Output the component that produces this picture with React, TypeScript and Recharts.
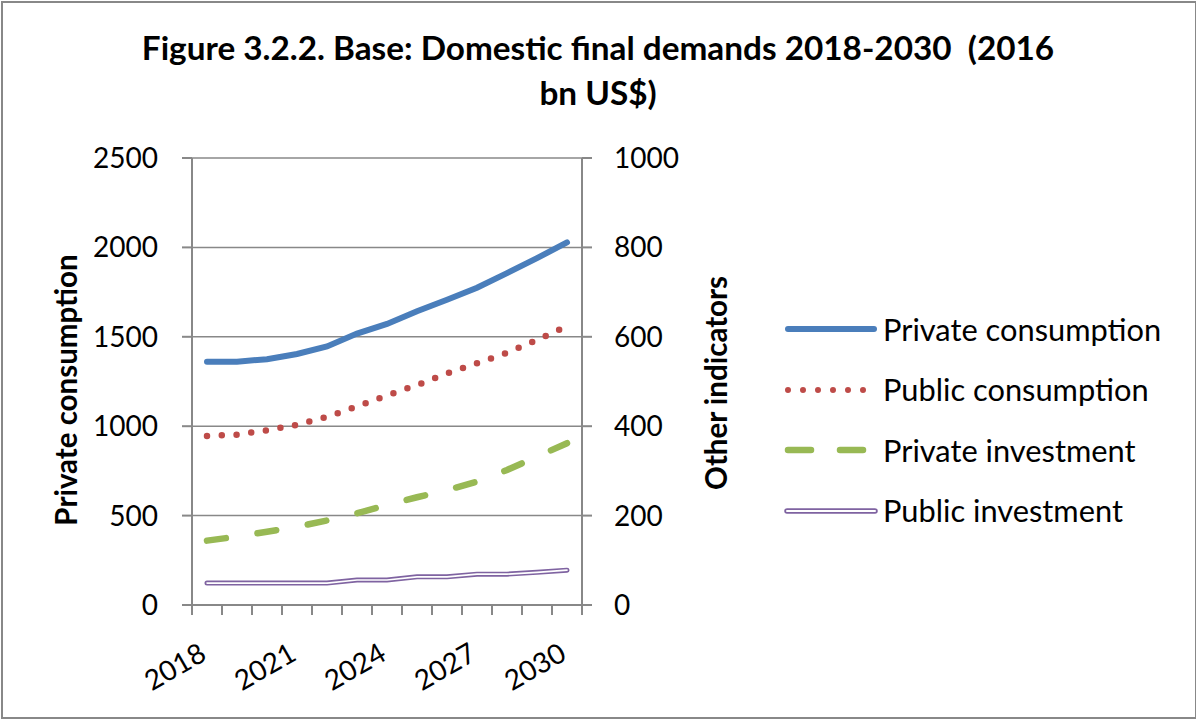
import React from "react";
import { LineChart, Line, XAxis, YAxis, CartesianGrid } from "recharts";

const years = ["2018", "2019", "2020", "2021", "2022", "2023", "2024", "2025", "2026", "2027", "2028", "2029", "2030"];
const privateConsumption = [1361, 1361, 1375, 1404, 1446, 1518, 1572, 1643, 1707, 1774, 1856, 1940, 2028];
const publicConsumption = [378, 381, 391, 403, 421, 444, 469, 492, 518, 541, 564, 593, 624];
const privateInvestment = [144, 153, 164, 175, 189, 205, 224, 241, 257, 276, 302, 332, 362];
const publicInvestment = [49, 49, 49, 49, 49, 56, 56, 63, 63, 69, 69, 73, 78];

const leftTicks = [0, 500, 1000, 1500, 2000, 2500];
const rightTicks = [0, 200, 400, 600, 800, 1000];
const labelYears = ["2018", "2021", "2024", "2027", "2030"];

const data = years.map((year, i) => ({
  year,
  privC: privateConsumption[i],
  pubC: publicConsumption[i],
  privI: privateInvestment[i],
  pubI: publicInvestment[i],
}));

const FONT = "Lato, 'Open Sans', sans-serif";
const GRAY = "#888888";
const BLUE = "#4A7EBB";
const RED = "#BE4B48";
const GREEN = "#98B954";
const PURPLE = "#7F63A1";

const PLOT_LEFT = 192;
const PLOT_RIGHT = 582;
const RIGHT_AXIS_W = 110;
const BAND = (PLOT_RIGHT - PLOT_LEFT) / years.length;

function YearTick(props: any) {
  const { x, y, payload, index } = props;
  const show = labelYears.includes(payload.value);
  return (
    <g>
      <line x1={x - BAND / 2} y1={y} x2={x - BAND / 2} y2={y + 10} stroke={GRAY} strokeWidth={2} />
      {index === years.length - 1 && (
        <line x1={x + BAND / 2} y1={y} x2={x + BAND / 2} y2={y + 10} stroke={GRAY} strokeWidth={2} />
      )}
      {show && (
        <text
          x={x + 1}
          y={y + 54}
          textAnchor="end"
          transform={`rotate(-30 ${x + 1} ${y + 54})`}
          fontFamily={FONT}
          fontSize={28}
          fill="#000"
        >
          {payload.value}
        </text>
      )}
    </g>
  );
}

const legendItems = [
  { label: "Private consumption", kind: "solid", color: BLUE },
  { label: "Public consumption", kind: "dot", color: RED },
  { label: "Private investment", kind: "dash", color: GREEN },
  { label: "Public investment", kind: "double", color: PURPLE },
];

function LegendBox() {
  return (
    <div style={{ fontFamily: FONT }}>
      {legendItems.map((it) => (
        <div key={it.label} style={{ display: "flex", alignItems: "center", height: 60.5 }}>
          <svg width={100} height={20} style={{ display: "block" }}>
            {it.kind === "solid" && (
              <line x1={4} y1={10} x2={90} y2={10} stroke={it.color} strokeWidth={6} strokeLinecap="round" />
            )}
            {it.kind === "dot" && (
              <line x1={4} y1={10} x2={90} y2={10} stroke={it.color} strokeWidth={6} strokeLinecap="round" strokeDasharray="0 15" />
            )}
            {it.kind === "dash" && (
              <line x1={4} y1={10} x2={90} y2={10} stroke={it.color} strokeWidth={6.5} strokeLinecap="round" strokeDasharray="23 29" />
            )}
            {it.kind === "double" && (
              <>
                <line x1={3} y1={10} x2={91} y2={10} stroke={it.color} strokeWidth={5.5} strokeLinecap="round" />
                <line x1={3} y1={10} x2={91} y2={10} stroke="#fff" strokeWidth={2} strokeLinecap="round" />
              </>
            )}
          </svg>
          <span style={{ fontSize: 30.8, color: "#000", whiteSpace: "nowrap", marginLeft: -1 }}>{it.label}</span>
        </div>
      ))}
    </div>
  );
}

export default function App() {
  return (
    <div
      style={{
        position: "absolute",
        left: 0,
        top: 0,
        width: 1196,
        height: 719,
        background: "#fff",
        fontFamily: FONT,
      }}
    >
      <div
        style={{
          position: "absolute",
          left: 1,
          top: 1,
          width: 1192,
          height: 714,
          border: `2px solid ${GRAY}`,
        }}
      />
      <div
        style={{
          position: "absolute",
          left: 0,
          top: 25,
          width: 1196,
          textAlign: "center",
          fontWeight: 700,
          fontSize: 33.3,
          lineHeight: "45px",
          color: "#000",
        }}
      >
        Figure 3.2.2. Base: Domestic final demands 2018-2030&nbsp; (2016
        <br />
        bn US$)
      </div>
      <div
        style={{
          position: "absolute",
          left: 65,
          top: 390,
          transform: "translate(-50%, -50%) rotate(-90deg)",
          fontWeight: 700,
          fontSize: 29.5,
          whiteSpace: "nowrap",
          color: "#000",
        }}
      >
        Private consumption
      </div>
      <div
        style={{
          position: "absolute",
          left: 715,
          top: 383,
          transform: "translate(-50%, -50%) rotate(-90deg)",
          fontWeight: 700,
          fontSize: 29.5,
          whiteSpace: "nowrap",
          color: "#000",
        }}
      >
        Other indicators
      </div>
      <div style={{ position: "absolute", left: 0, top: 0 }}>
        <LineChart
          width={PLOT_RIGHT + RIGHT_AXIS_W}
          height={719}
          data={data}
          margin={{ top: 158, right: 0, bottom: 0, left: 0 }}
        >
          <CartesianGrid yAxisId="left" vertical={false} stroke={GRAY} strokeWidth={1.5} />
          <XAxis
            dataKey="year"
            interval={0}
            height={114}
            padding={{ left: BAND / 2, right: BAND / 2 }}
            tickSize={0}
            tickMargin={0}
            tickLine={false}
            tick={<YearTick />}
            axisLine={{ stroke: GRAY, strokeWidth: 2 }}
          />
          <YAxis
            yAxisId="left"
            width={PLOT_LEFT}
            domain={[0, 2500]}
            ticks={leftTicks}
            tickSize={10}
            tickMargin={24}
            tickLine={{ stroke: GRAY, strokeWidth: 2 }}
            axisLine={{ stroke: GRAY, strokeWidth: 2 }}
            tick={{ fontFamily: FONT, fontSize: 28, fill: "#000" }}
          />
          <YAxis
            yAxisId="right"
            orientation="right"
            width={RIGHT_AXIS_W}
            domain={[0, 1000]}
            ticks={rightTicks}
            tickSize={10}
            tickMargin={22}
            tickLine={{ stroke: GRAY, strokeWidth: 2 }}
            axisLine={{ stroke: GRAY, strokeWidth: 2 }}
            tick={{ fontFamily: FONT, fontSize: 28, fill: "#000", textAnchor: "start" }}
          />
          <Line
            yAxisId="left"
            type="linear"
            dataKey="privC"
            stroke={BLUE}
            strokeWidth={6}
            strokeLinecap="round"
            dot={false}
            isAnimationActive={false}
          />
          <Line
            yAxisId="right"
            type="linear"
            dataKey="pubC"
            stroke={RED}
            strokeWidth={6.5}
            strokeLinecap="round"
            strokeDasharray="0 14.8"
            dot={false}
            isAnimationActive={false}
          />
          <Line
            yAxisId="right"
            type="linear"
            dataKey="privI"
            stroke={GREEN}
            strokeWidth={6.5}
            strokeLinecap="round"
            strokeDasharray="19 32"
            dot={false}
            isAnimationActive={false}
          />
          <Line
            yAxisId="right"
            type="linear"
            dataKey="pubI"
            stroke={PURPLE}
            strokeWidth={5}
            strokeLinecap="round"
            dot={false}
            isAnimationActive={false}
          />
          <Line
            yAxisId="right"
            type="linear"
            dataKey="pubI"
            stroke="#fff"
            strokeWidth={1.6}
            strokeLinecap="round"
            dot={false}
            legendType="none"
            isAnimationActive={false}
          />
        </LineChart>
      </div>
      <div style={{ position: "absolute", left: 784, top: 299 }}>
        <LegendBox />
      </div>
    </div>
  );
}
